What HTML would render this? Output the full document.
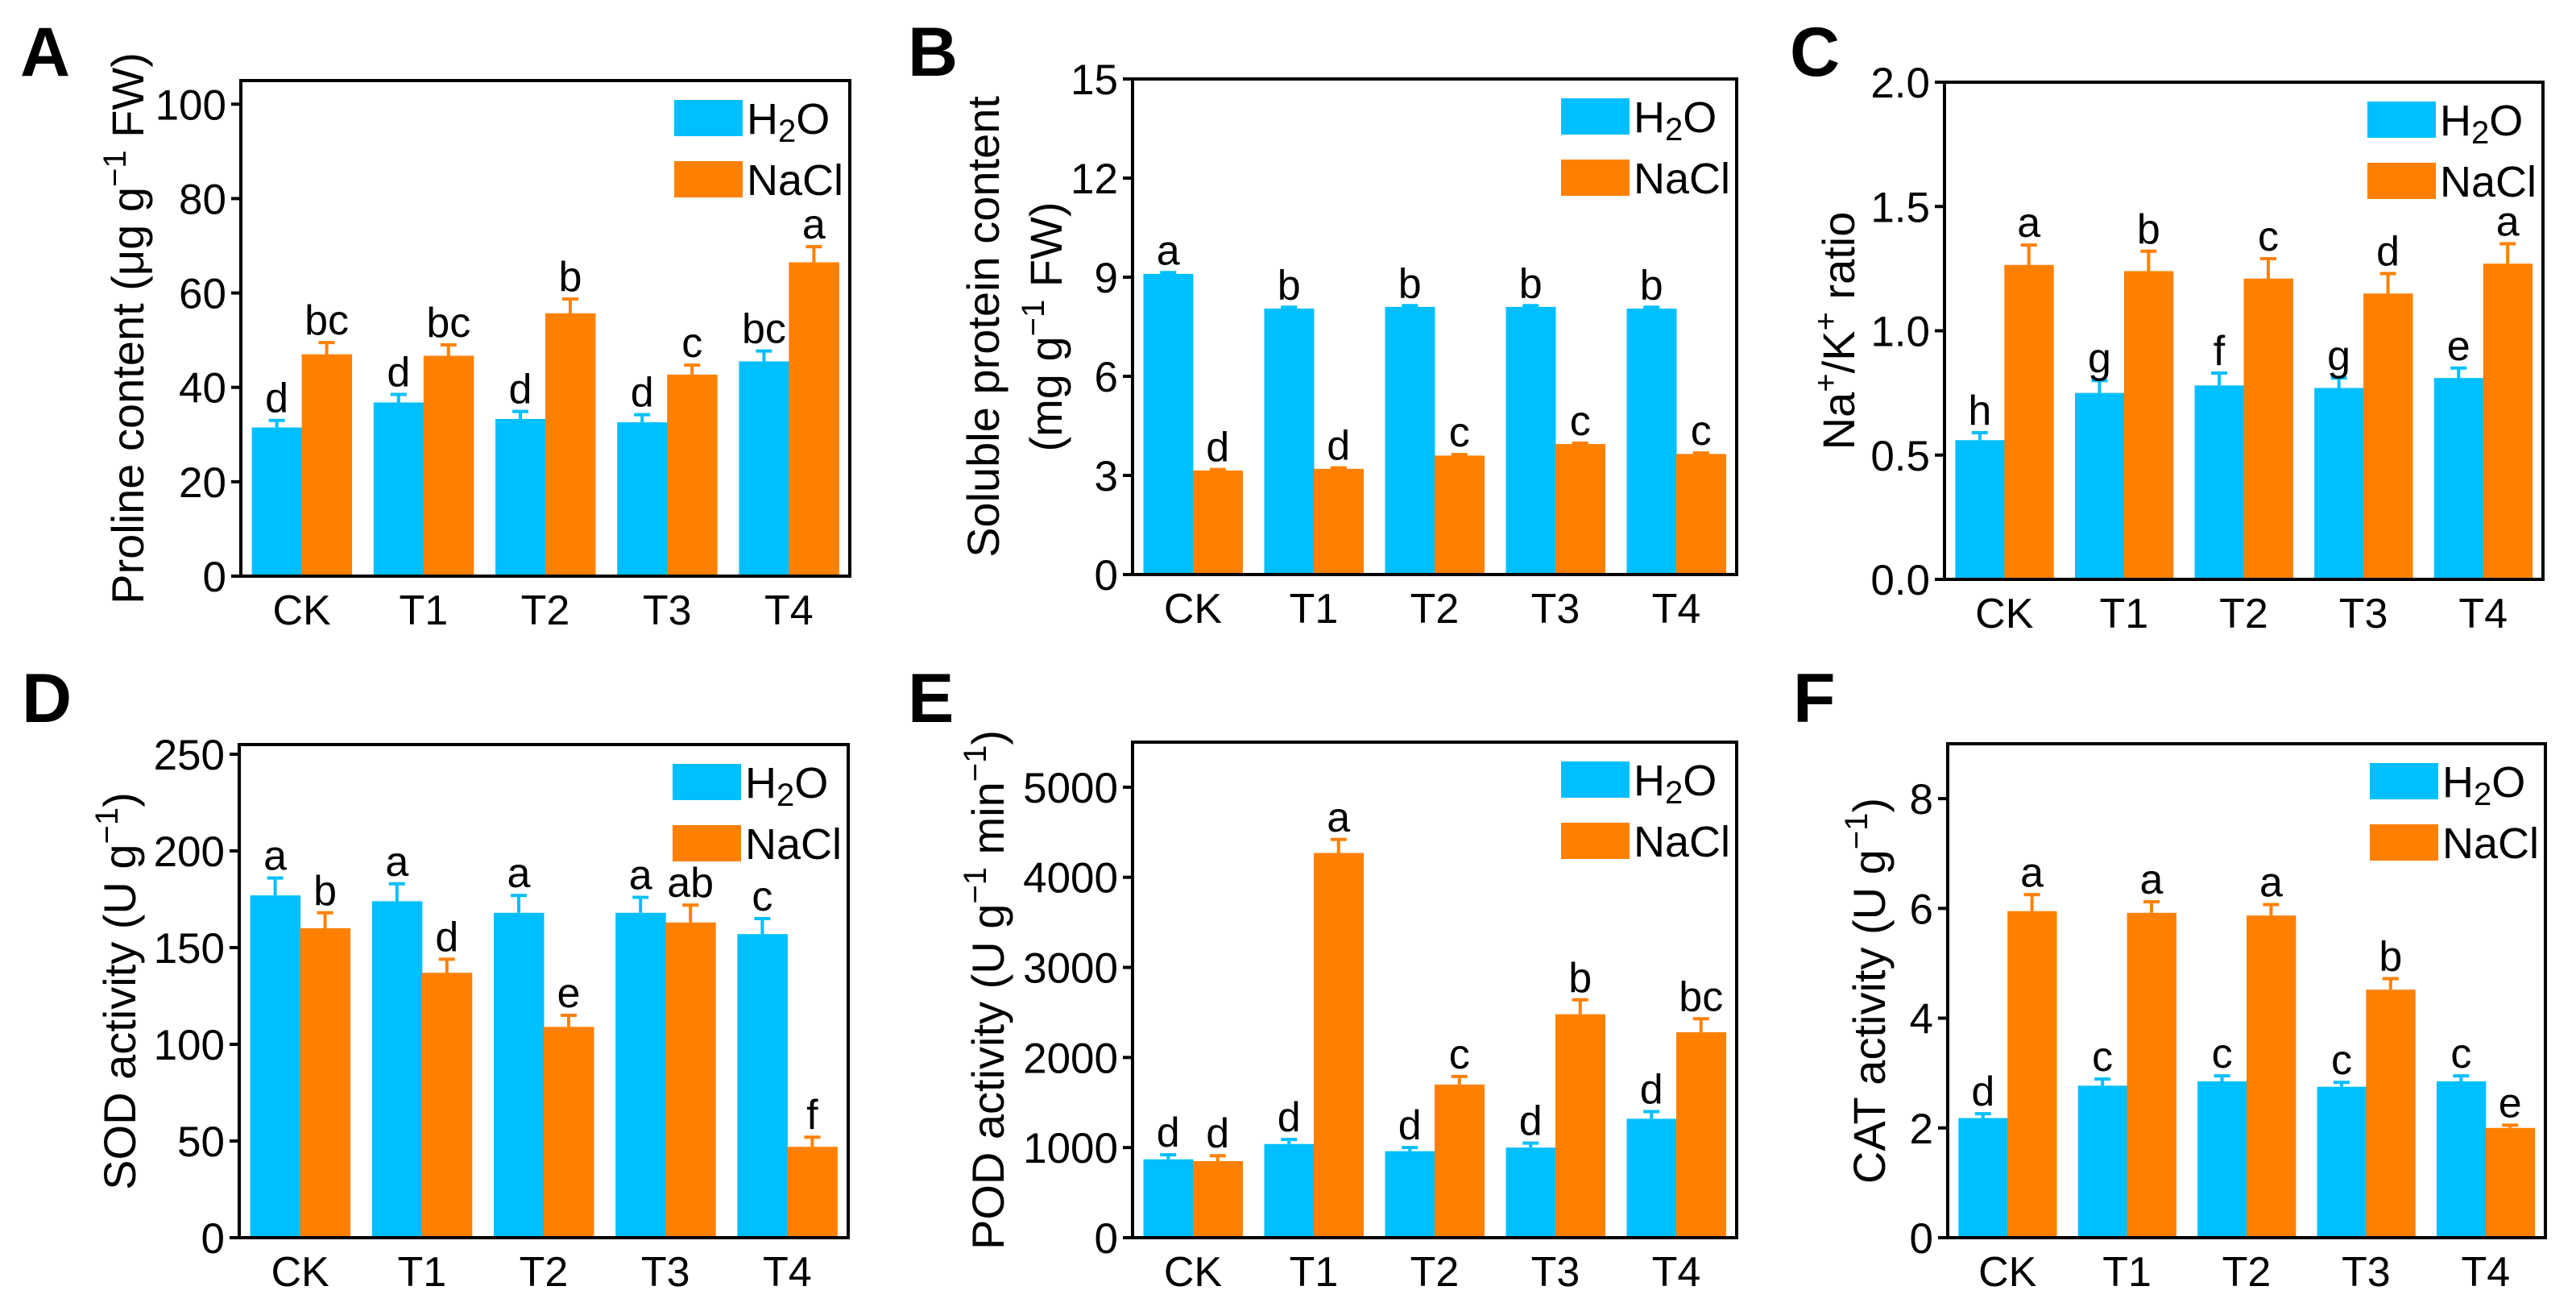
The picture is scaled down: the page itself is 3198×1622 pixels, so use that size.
<!DOCTYPE html>
<html><head><meta charset="utf-8">
<style>
html,body{margin:0;padding:0;background:#fff;}
svg{display:block;font-family:"Liberation Sans",Arial,sans-serif;}
</style></head>
<body>
<svg id="fig" width="3198" height="1622" viewBox="0 0 3198 1622" xmlns="http://www.w3.org/2000/svg"></svg>
<script>
const categories = ["CK","T1","T2","T3","T4"];

const aH2O = [31.5,36.8,33.3,32.6,45.5];
const aH2OErr = [1.5,1.7,1.6,1.6,2.2];
const aNaCl = [47,46.7,55.7,42.7,66.5];
const aNaClErr = [2.5,2.3,3,2,3.3];
const aH2OLet = ["d","d","d","d","bc"];
const aNaClLet = ["bc","bc","b","c","a"];
const aTicks = [0,20,40,60,80,100];

const bH2O = [9.1,8.05,8.1,8.1,8.05];
const bH2OErr = [0.04,0.04,0.04,0.04,0.04];
const bNaCl = [3.15,3.2,3.6,3.95,3.65];
const bNaClErr = [0.03,0.03,0.03,0.03,0.03];
const bH2OLet = ["a","b","b","b","b"];
const bNaClLet = ["d","d","c","c","c"];
const bTicks = [0,3,6,9,12,15];

const cH2O = [0.56,0.75,0.78,0.77,0.81];
const cH2OErr = [0.03,0.05,0.05,0.04,0.04];
const cNaCl = [1.265,1.24,1.21,1.15,1.27];
const cNaClErr = [0.08,0.08,0.08,0.08,0.08];
const cH2OLet = ["h","g","f","g","e"];
const cNaClLet = ["a","b","c","d","a"];
const cTicks = [0,0.5,1.0,1.5,2.0];

const dH2O = [177,174,168,168,157];
const dH2OErr = [9,9,9,8,8];
const dNaCl = [160,137,109,163,47];
const dNaClErr = [8,7,6,9,5];
const dH2OLet = ["a","a","a","a","c"];
const dNaClLet = ["b","d","e","ab","f"];
const dTicks = [0,50,100,150,200,250];

const eH2O = [870,1040,960,1000,1320];
const eH2OErr = [50,50,40,50,80];
const eNaCl = [850,4270,1700,2480,2280];
const eNaClErr = [60,150,90,160,150];
const eH2OLet = ["d","d","d","d","d"];
const eNaClLet = ["d","a","c","b","bc"];
const eTicks = [0,1000,2000,3000,4000,5000];

const fH2O = [2.18,2.77,2.85,2.75,2.85];
const fH2OErr = [0.08,0.12,0.1,0.08,0.1];
const fNaCl = [5.95,5.92,5.87,4.52,2.0];
const fNaClErr = [0.3,0.2,0.2,0.2,0.05];
const fH2OLet = ["d","c","c","c","c"];
const fNaClLet = ["a","a","a","b","e"];
const fTicks = [0,2,4,6,8];

const NS = "http://www.w3.org/2000/svg";
const svg = document.getElementById("fig");
const BLUE = "#00BFFF", ORANGE = "#FF8000";

function mk(tag, attrs, parent){
  const e = document.createElementNS(NS, tag);
  for (const k in attrs) e.setAttribute(k, attrs[k]);
  (parent || svg).appendChild(e);
  return e;
}

function panel(p){
  const g = mk("g", {});
  
  
  const L=p.x0, R=p.x1, T=p.y0, B=p.y1;
  const y = v => B - (v / p.ymax) * (B - T);
  const pitch = (R - L) / categories.length;
  const bw = pitch * 0.41;
  const pl = mk("text", {x:p.lx, y:p.ly, "font-size":86, "font-weight":"bold", fill:"#000"}, g);
  pl.textContent = p.letter;
  
  
  const series = [[p.h2o,p.h2oErr,p.h2oLet,BLUE,"h2o"],[p.nacl,p.naclErr,p.naclLet,ORANGE,"nacl"]];
  categories.forEach((c,i)=>{
    const gx = L + pitch*i + (pitch - 2*bw)/2;
    series.forEach((s,j)=>{
      const v = s[0][i], er = s[1][i];
      const bx = gx + j*bw;
      const r = mk("rect", {x:bx, y:y(v), width:bw+0.5, height:B - y(v), fill:s[3]}, g);
      
      
      const cx = bx + bw/2, ty = y(v+er);
      const eb = mk("path", {d:`M${cx},${y(v)} V${ty} M${cx-10},${ty} H${cx+10}`, stroke:s[3], "stroke-width":4, fill:"none"}, g);
      
      
      const lt = mk("text", {x:cx, y:ty-10, "font-size":52, "text-anchor":"middle", fill:"#000"}, g);
      lt.textContent = s[2][i];
      
      
    });
    const xl = mk("text", {x:L + pitch*i + pitch/2, y:B+60, "font-size":52, "text-anchor":"middle", fill:"#000"}, g);
    xl.textContent = c;
    
    
  });
  const fr = mk("rect", {x:L, y:T, width:R-L, height:B-T, fill:"none", stroke:"#000", "stroke-width":4}, g);
  
  
  p.ticks.forEach(t=>{
    const ty = y(t);
    const tk = mk("line", {x1:L-12, x2:L, y1:ty, y2:ty, stroke:"#000", "stroke-width":4}, g);
    
    
    const tl = mk("text", {x:L-18, y:ty+19, "font-size":53, "text-anchor":"end", fill:"#000"}, g);
    tl.textContent = p.fmt ? p.fmt(t) : String(t);
    
    
  });
  const lx = R - 218, ly = T + 24;
  [["H2O",BLUE],["NaCl",ORANGE]].forEach((it,k)=>{
    const sw = mk("rect", {x:lx, y:ly + k*76, width:85, height:45, fill:it[1]}, g);
    
    
    const tx = mk("text", {x:lx+90, y:ly + k*76 + 42, "font-size":54, fill:"#000"}, g);
    if (k===0){ tx.innerHTML = 'H<tspan font-size="40" dy="10">2</tspan><tspan dy="-10">O</tspan>'; }
    else tx.textContent = "NaCl";
    
    
  });
  const cy = (T+B)/2;
  p.titles.forEach((html,k)=>{
    const tt = mk("text", {x:0, y:0, "font-size":56, "text-anchor":"middle", fill:"#000",
      transform:`translate(${p.tx[k]},${cy}) rotate(-90)`}, g);
    tt.innerHTML = html;
    
    
  });
}

panel({letter:"A", lx:25, ly:94, x0:299, x1:1055, y0:100, y1:715, ymax:105, ticks:aTicks,
  h2o:aH2O, h2oErr:aH2OErr, nacl:aNaCl, naclErr:aNaClErr, h2oLet:aH2OLet, naclLet:aNaClLet,
  titles:[`Proline content (μg g<tspan dy="-22" font-size="40">−1</tspan><tspan dy="22"> FW)</tspan>`], tx:[178]});
panel({letter:"B", lx:1127, ly:94, x0:1406, x1:2156, y0:98, y1:713, ymax:15, ticks:bTicks,
  h2o:bH2O, h2oErr:bH2OErr, nacl:bNaCl, naclErr:bNaClErr, h2oLet:bH2OLet, naclLet:bNaClLet,
  titles:["Soluble protein content", `(mg g<tspan dy="-22" font-size="40">−1</tspan><tspan dy="22"> FW)</tspan>`], tx:[1240,1318]});
panel({letter:"C", lx:2222, ly:94, x0:2414, x1:3157, y0:102, y1:719, ymax:2.0, ticks:cTicks, fmt:t=>t.toFixed(1),
  h2o:cH2O, h2oErr:cH2OErr, nacl:cNaCl, naclErr:cNaClErr, h2oLet:cH2OLet, naclLet:cNaClLet,
  titles:[`Na<tspan dy="-22" font-size="40">+</tspan><tspan dy="22">/K</tspan><tspan dy="-22" font-size="40">+</tspan><tspan dy="22"> ratio</tspan>`], tx:[2302]});
panel({letter:"D", lx:27, ly:896, x0:297, x1:1053, y0:924, y1:1536, ymax:255, ticks:dTicks,
  h2o:dH2O, h2oErr:dH2OErr, nacl:dNaCl, naclErr:dNaClErr, h2oLet:dH2OLet, naclLet:dNaClLet,
  titles:[`SOD activity (U g<tspan dy="-22" font-size="40">−1</tspan><tspan dy="22">)</tspan>`], tx:[168]});
panel({letter:"E", lx:1127, ly:896, x0:1406, x1:2156, y0:921, y1:1536, ymax:5500, ticks:eTicks,
  h2o:eH2O, h2oErr:eH2OErr, nacl:eNaCl, naclErr:eNaClErr, h2oLet:eH2OLet, naclLet:eNaClLet,
  titles:[`POD activity (U g<tspan dy="-22" font-size="40">−1</tspan><tspan dy="22"> min</tspan><tspan dy="-22" font-size="40">−1</tspan><tspan dy="22">)</tspan>`], tx:[1246]});
panel({letter:"F", lx:2226, ly:896, x0:2418, x1:3160, y0:923, y1:1536, ymax:9, ticks:fTicks,
  h2o:fH2O, h2oErr:fH2OErr, nacl:fNaCl, naclErr:fNaClErr, h2oLet:fH2OLet, naclLet:fNaClLet,
  titles:[`CAT activity (U g<tspan dy="-22" font-size="40">−1</tspan><tspan dy="22">)</tspan>`], tx:[2340]});
</script>
</body></html>
